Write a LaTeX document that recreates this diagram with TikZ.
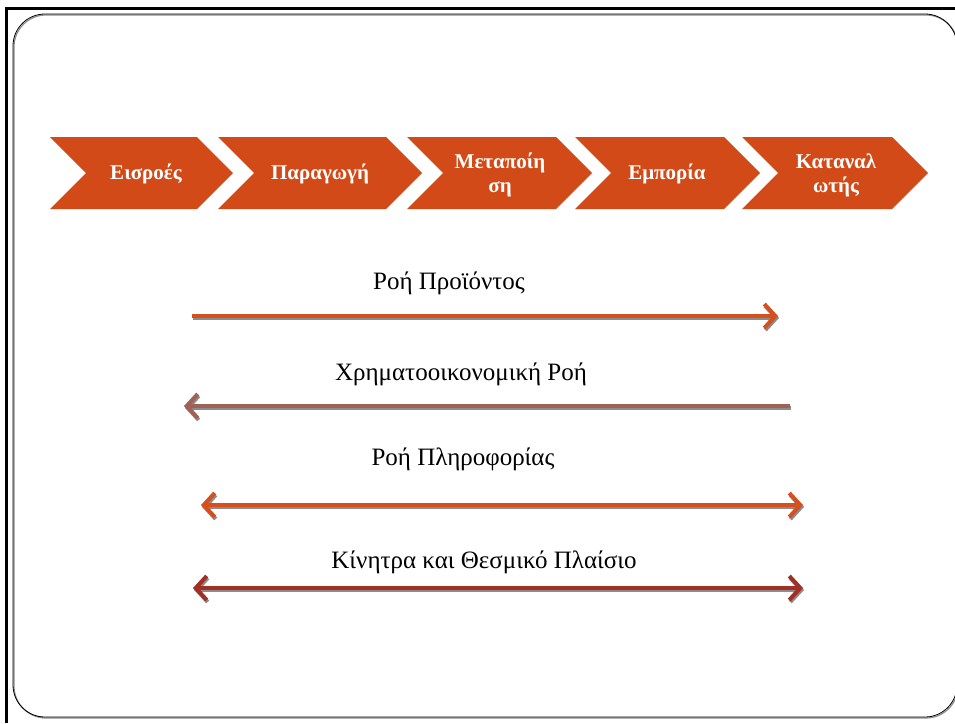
\documentclass[tikz,border=0pt]{standalone}
\usepackage{fontspec}
\setmainfont{Liberation Serif}
\usetikzlibrary{arrows.meta}
\definecolor{chev}{RGB}{210,74,24}
\definecolor{flowor}{RGB}{214,80,30}
\definecolor{flowbr}{RGB}{160,98,84}
\definecolor{flowrd}{RGB}{163,46,38}
\definecolor{shad}{RGB}{140,140,140}
\tikzset{
  chevtext/.style={text=white, font=\bfseries\fontsize{21}{24}\selectfont, align=center, inner sep=0pt},
  flowlabel/.style={text=black, font=\fontsize{25}{28}\selectfont, inner sep=0pt},
  flowline/.style={line width=4pt, -{Straight Barb[length=11pt,width=24pt,line width=4pt]}},
  flowline2/.style={line width=4pt, {Straight Barb[length=11pt,width=24pt,line width=4pt]}-{Straight Barb[length=11pt,width=24pt,line width=4pt]}},
}
\newcommand{\chevshape}[2]{% left x, right tip x
  \fill[chev] (#1,137) -- (#2-36,137) -- (#2,173) -- (#2-36,209) -- (#1,209) -- (#1+36,173) -- cycle;}
\begin{document}
\begin{tikzpicture}[x=1pt,y=-1pt]
\useasboundingbox (0,0) rectangle (955,723);
% frame
\draw[line width=3pt] (6,723) -- (6,8) -- (955,8);
\draw[shad, line width=1.2pt, rounded corners=32pt] (14,15) rectangle (958,718);
\draw[black, line width=0.8pt, rounded corners=32pt] (13,14) rectangle (957,717);
% chevrons
\chevshape{50}{233}
\chevshape{218}{422}
\chevshape{407}{592}
\chevshape{575}{760}
\chevshape{742}{928}
\node[chevtext] (c1) at (146,174) {Εισροές};
\node[chevtext] (c2) at (320,174) {Παραγωγή};
\node[chevtext] (c3) at (500,175) {Μεταποίη\\ση};
\node[chevtext] (c4) at (667,174) {Εμπορία};
\node[chevtext] (c5) at (836,175) {Καταναλ\\ωτής};
% flows
\node[flowlabel] (l1) at (449,283) {Ροή Προϊόντος};
\node[flowlabel] (l2) at (461,374) {Χρηματοοικονομική Ροή};
\node[flowlabel] (l3) at (463,459) {Ροή Πληροφορίας};
\node[flowlabel] (l4) at (484,562) {Κίνητρα και  Θεσμικό Πλαίσιο};
\coordinate (a1s) at (192,316); \coordinate (a1e) at (778,316);
\coordinate (a2s) at (790,406); \coordinate (a2e) at (184,406);
\coordinate (a3s) at (201,505); \coordinate (a3e) at (803,505);
\coordinate (a4s) at (193,588); \coordinate (a4e) at (803,588);
\tikzset{sh/.style={xshift=1pt,yshift=-2pt}}
\draw[shad, flowline] ([sh]a1s) -- ([sh]a1e);
\draw[shad, flowline] ([sh]a2s) -- ([sh]a2e);
\draw[shad, flowline2] ([sh]a3s) -- ([sh]a3e);
\draw[shad, flowline2] ([sh]a4s) -- ([sh]a4e);
\draw[flowor, flowline] (a1s) -- (a1e);
\draw[flowbr, flowline] (a2s) -- (a2e);
\draw[flowor, flowline2] (a3s) -- (a3e);
\draw[flowrd, flowline2] (a4s) -- (a4e);
\end{tikzpicture}
\end{document}
